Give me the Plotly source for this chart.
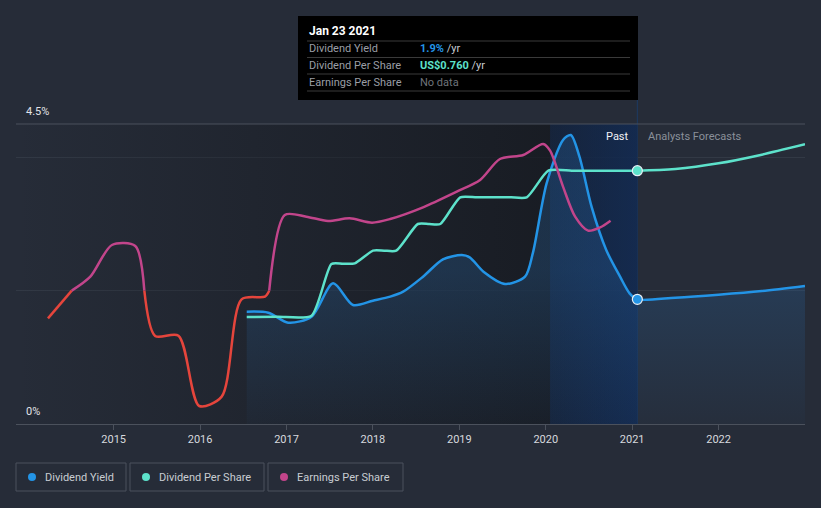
import plotly.graph_objects as go

# ---------------- data (decimal years) ----------------
yield_x = [2016.54, 2016.79, 2017.02, 2017.29, 2017.54, 2017.77, 2018.0, 2018.2, 2018.35,
           2018.58, 2018.81, 2019.03, 2019.12, 2019.28, 2019.53, 2019.76, 2019.85, 2020.01,
           2020.2, 2020.29, 2020.39, 2020.53, 2020.70, 2020.86, 2020.97, 2021.06]
yield_v = [1.685, 1.67, 1.52, 1.61, 2.11, 1.785, 1.85, 1.91, 1.985,
           2.21, 2.47, 2.535, 2.5, 2.285, 2.10, 2.21, 2.56, 3.61,
           4.26, 4.335, 4.01, 3.26, 2.61, 2.21, 1.96, 1.87]
yield_fc_x = [2021.06, 2021.5, 2022.0, 2022.5, 2023.0]
yield_fc_v = [1.87, 1.895, 1.94, 1.995, 2.07]

dps_x = [2016.54, 2016.9, 2017.29, 2017.52, 2017.65, 2017.79, 2018.0, 2018.13, 2018.27,
         2018.52, 2018.65, 2018.78, 2019.01, 2019.2, 2019.4, 2019.6, 2019.78, 2020.03,
         2020.3, 2020.55, 2020.8, 2021.06]
dps_v = [0.321, 0.322, 0.325, 0.48, 0.481, 0.482, 0.52, 0.52, 0.52,
         0.60, 0.60, 0.60, 0.68, 0.68, 0.68, 0.68, 0.68, 0.76,
         0.76, 0.76, 0.76, 0.76]
dps_fc_x = [2021.06, 2021.5, 2022.0, 2022.5, 2023.0]
dps_fc_v = [0.76, 0.765, 0.782, 0.808, 0.839]

eps_x = [2014.24, 2014.515, 2014.73, 2014.98, 2015.25, 2015.355, 2015.48, 2015.75, 2015.99,
         2016.25, 2016.48, 2016.75, 2016.80, 2016.98, 2017.23, 2017.48, 2017.73, 2017.99,
         2018.2, 2018.58, 2018.97, 2019.24, 2019.47, 2019.74, 2019.97, 2020.05, 2020.2,
         2020.34, 2020.49, 2020.63, 2020.75]
eps_v = [0.317, 0.40, 0.442, 0.537, 0.534, 0.40, 0.264, 0.265, 0.054,
         0.082, 0.374, 0.382, 0.40, 0.627, 0.622, 0.609, 0.617, 0.604,
         0.615, 0.650, 0.697, 0.732, 0.795, 0.807, 0.840, 0.82, 0.712,
         0.622, 0.58, 0.59, 0.61]
eps_threshold = 0.40

year_ticks = [2015, 2016, 2017, 2018, 2019, 2020, 2021, 2022]
year_labels = [str(y) for y in year_ticks]

x_start, x_end = 2013.87, 2023.0
x_now = 2021.06
x_band = 2020.05

# ---------------- styling ----------------
BG = "#262c38"
C_YIELD = "#2394e6"
C_DPS = "#5de2cb"
C_EPS = "#c2458b"
C_EPS_LOW = "#e5453c"
FONT = "Roboto"

fig = go.Figure()

# past background gradient
fig.add_trace(go.Scatter(
    x=[x_start, x_now, x_now, x_start, x_start], y=[0, 0, 4.5, 4.5, 0],
    mode="lines", line=dict(width=0), fill="toself",
    fillgradient=dict(type="horizontal", start=x_start, stop=x_band,
                      colorscale=[[0, "rgba(20,23,29,0.0)"], [1, "rgba(20,23,29,0.75)"]]),
    hoverinfo="skip", showlegend=False))
# highlighted band
fig.add_trace(go.Scatter(
    x=[x_band, x_now, x_now, x_band, x_band], y=[0, 0, 4.5, 4.5, 0],
    mode="lines", line=dict(width=0), fill="toself",
    fillgradient=dict(type="horizontal", start=x_band, stop=x_now,
                      colorscale=[[0, "rgba(16,55,118,0.28)"], [1, "rgba(16,55,118,0.52)"]]),
    hoverinfo="skip", showlegend=False))

# dividend yield (past + forecast), with area
all_yx = yield_x + yield_fc_x[1:]
all_yv = yield_v + yield_fc_v[1:]
fig.add_trace(go.Scatter(
    x=all_yx, y=all_yv, mode="lines",
    line=dict(color=C_YIELD, width=2.5, shape="spline", smoothing=0.8),
    fill="tozeroy",
    fillgradient=dict(type="vertical", start=0, stop=2.3,
                      colorscale=[[0, "rgba(40,100,160,0.04)"], [1, "rgba(40,100,160,0.30)"]]),
    hoverinfo="skip", showlegend=False))

# dividend per share
all_dx = dps_x + dps_fc_x[1:]
all_dv = dps_v + dps_fc_v[1:]
fig.add_trace(go.Scatter(
    x=all_dx, y=all_dv, yaxis="y2", mode="lines",
    line=dict(color=C_DPS, width=2.5, shape="spline", smoothing=0.6),
    hoverinfo="skip", showlegend=False))

# earnings per share split by threshold colour
runs = []
for i in range(len(eps_x) - 1):
    c = C_EPS if (eps_v[i] + eps_v[i + 1]) / 2 >= eps_threshold else C_EPS_LOW
    if runs and runs[-1][0] == c:
        runs[-1][1].append(i + 1)
    else:
        runs.append([c, [i, i + 1]])
for c, idx in runs:
    fig.add_trace(go.Scatter(
        x=[eps_x[k] for k in idx], y=[eps_v[k] for k in idx], yaxis="y2", mode="lines",
        line=dict(color=c, width=2.5, shape="spline", smoothing=0.8),
        hoverinfo="skip", showlegend=False))

# current markers
fig.add_trace(go.Scatter(
    x=[x_now], y=[yield_v[-1]], mode="markers",
    marker=dict(size=10, color=C_YIELD, line=dict(color="#e8eef5", width=1.2)),
    hoverinfo="skip", showlegend=False))
fig.add_trace(go.Scatter(
    x=[x_now], y=[dps_v[-1]], yaxis="y2", mode="markers",
    marker=dict(size=10, color=C_DPS, line=dict(color="#e8eef5", width=1.2)),
    hoverinfo="skip", showlegend=False))

# ---------------- layout helpers ----------------
L, R, T, B = 16, 805, 124, 424


def px(xp):
    return (xp - L) / (R - L)


def py(yp):
    return (B - yp) / (B - T)


shapes = [
    # top border line (4.5%)
    dict(type="line", xref="paper", yref="paper", x0=0, x1=1, y0=1, y1=1,
         line=dict(color="#4b515c", width=1)),
    # vertical "now" line
    dict(type="line", xref="x", yref="paper", x0=x_now, x1=x_now, y0=0, y1=py(100),
         line=dict(color="#1d3a62", width=1), layer="below"),
    # tooltip box
    dict(type="rect", xref="paper", yref="paper", x0=px(298), x1=px(638),
         y0=py(100), y1=py(16), fillcolor="#000000", line=dict(width=0)),
]
for yl in [41, 57.5, 74, 91]:
    shapes.append(dict(type="line", xref="paper", yref="paper", x0=px(307), x1=px(630),
                       y0=py(yl), y1=py(yl), line=dict(color="#3a3a3a", width=1)))

legend_items = [("Dividend Yield", C_YIELD, 16, 126),
                ("Dividend Per Share", C_DPS, 130, 264),
                ("Earnings Per Share", C_EPS, 268, 403)]
annotations = []
for name, col, x0, x1 in legend_items:
    shapes.append(dict(type="rect", xref="paper", yref="paper", x0=px(x0), x1=px(x1),
                       y0=py(491), y1=py(463), line=dict(color="#4b515c", width=1),
                       fillcolor="rgba(0,0,0,0)"))
    shapes.append(dict(type="circle", xref="paper", yref="paper", x0=px(x0 + 12), x1=px(x0 + 20),
                       y0=py(481), y1=py(473), fillcolor=col, line=dict(width=0)))
    annotations.append(dict(xref="paper", yref="paper", x=px(x0 + 27), y=py(477), text=name,
                            showarrow=False, xanchor="left", yanchor="middle",
                            font=dict(family=FONT, size=11, color="#c8ccd2")))

# y labels
annotations += [
    dict(xref="paper", yref="paper", x=px(24), y=py(112), text="4.5%", showarrow=False,
         xanchor="left", yanchor="middle", font=dict(family=FONT, size=11, color="#e2e4e8")),
    dict(xref="paper", yref="paper", x=px(24), y=py(411), text="0%", showarrow=False,
         xanchor="left", yanchor="middle", font=dict(family=FONT, size=11, color="#e2e4e8")),
    dict(xref="paper", yref="paper", x=px(631), y=py(136), text="Past", showarrow=False,
         xanchor="right", yanchor="middle", font=dict(family=FONT, size=11, color="#f0f2f5")),
    dict(xref="paper", yref="paper", x=px(646), y=py(136), text="Analysts Forecasts",
         showarrow=False, xanchor="left", yanchor="middle",
         font=dict(family=FONT, size=11, color="#8a909a")),
]

# tooltip text
tt_rows = [
    ("Dividend Yield", f"<span style='color:{C_YIELD}'><b>1.9%</b></span> /yr", 48.5),
    ("Dividend Per Share", f"<span style='color:{C_DPS}'><b>US$0.760</b></span> /yr", 65.5),
    ("Earnings Per Share", "<span style='color:#6f747b'>No data</span>", 82.5),
]
annotations.append(dict(xref="paper", yref="paper", x=px(307), y=py(31), text="<b>Jan 23 2021</b>",
                        showarrow=False, xanchor="left", yanchor="middle",
                        font=dict(family=FONT, size=12, color="#ffffff")))
for lab, val, yy in tt_rows:
    annotations.append(dict(xref="paper", yref="paper", x=px(307), y=py(yy), text=lab,
                            showarrow=False, xanchor="left", yanchor="middle",
                            font=dict(family=FONT, size=11, color="#9a9ea5")))
    annotations.append(dict(xref="paper", yref="paper", x=px(418), y=py(yy), text=val,
                            showarrow=False, xanchor="left", yanchor="middle",
                            font=dict(family=FONT, size=11, color="#c8ccd2")))

fig.update_layout(
    width=821, height=508, autosize=False,
    margin=dict(l=L, r=821 - R, t=T, b=508 - B),
    paper_bgcolor=BG, plot_bgcolor=BG,
    font=dict(family=FONT, color="#d0d4da"),
    showlegend=False,
    xaxis=dict(range=[x_start, x_end], tickvals=year_ticks, ticktext=year_labels,
               showgrid=False, zeroline=False, showline=True, linecolor="#4b515c", linewidth=1,
               ticks="outside", ticklen=5, tickcolor="#4b515c",
               tickfont=dict(family=FONT, size=11, color="#d6d9de")),
    yaxis=dict(range=[0, 4.5], tickvals=[0, 2, 4], showticklabels=False,
               showgrid=True, gridcolor="#323945", gridwidth=1, zeroline=False, fixedrange=True),
    yaxis2=dict(range=[0, 0.9], overlaying="y", visible=False, showgrid=False),
    shapes=shapes, annotations=annotations,
)

fig.write_html(
    "out.html",
    config={"displayModeBar": False},
    post_script="document.body.style.margin='0';document.body.style.padding='0';"
                "document.body.style.background='%s';document.body.style.overflow='hidden';" % BG,
)
